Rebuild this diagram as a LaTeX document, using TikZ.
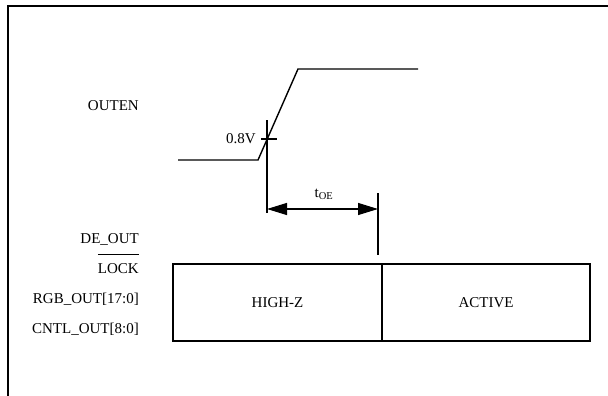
\documentclass[tikz,border=0pt]{standalone}
\usepackage{fontspec}
\setmainfont{Liberation Serif}
\usetikzlibrary{arrows.meta}
\begin{document}
\begin{tikzpicture}[x=1pt,y=-1pt,
  font=\fontsize{15}{18}\selectfont,
  lbl/.style={anchor=east, inner sep=0pt},
  wave/.style={line width=1.4pt},
  marker/.style={line width=1.2pt},
  statebox/.style={draw, line width=1.3pt, minimum height=77pt, inner sep=0pt},
  dimarrow/.style={line width=1.2pt, {Triangle[length=20pt,width=12pt]}-{Triangle[length=20pt,width=12pt]}}
  ]
\useasboundingbox (0,0) rectangle (608,396);
% frame
\draw[line width=1.8pt] (8,397) -- (8,6) -- (609,6);
% signal labels
\node[lbl] (outen) at (139,106) {OUTEN};
\node[lbl] (deout) at (139,239) {DE\_OUT};
\node[lbl] (lock) at (139,269) {LOCK};
\draw[line width=0.9pt] (lock.west |- 0,254) -- (lock.east |- 0,254);
\node[lbl] (rgb) at (139,299) {RGB\_OUT[17:0]};
\node[lbl] (cntl) at (139,329) {CNTL\_OUT[8:0]};
% OUTEN waveform
\coordinate (w0) at (178,160);
\coordinate (w1) at (258,160);
\coordinate (w2) at (298,69);
\coordinate (w3) at (418,69);
\draw[wave] (w0) -- (w1) -- (w2) -- (w3);
% 0.8V threshold marker
\coordinate (m0) at (267,120);
\coordinate (m1) at (267,213);
\draw[marker] (m0) -- (m1);
\coordinate (t0) at (261,139);
\coordinate (t1) at (277,139);
\draw[marker] (t0) -- (t1);
\node[anchor=east, inner sep=0pt] (v08) at (256,139) {0.8V};
% tOE dimension
\coordinate (n0) at (378,193);
\coordinate (n1) at (378,255);
\draw[marker] (n0) -- (n1);
\coordinate (a0) at (267,209);
\coordinate (a1) at (378,209);
\draw[dimarrow] (a0) -- (a1);
\node[inner sep=0pt] (toe) at (324,194) {t\textsubscript{OE}};
% output state boxes
\node[statebox, minimum width=209pt] (hz) at (277.5,302.5) {HIGH-Z};
\node[statebox, minimum width=208pt] (act) at (486,302.5) {ACTIVE};
\end{tikzpicture}
\end{document}
